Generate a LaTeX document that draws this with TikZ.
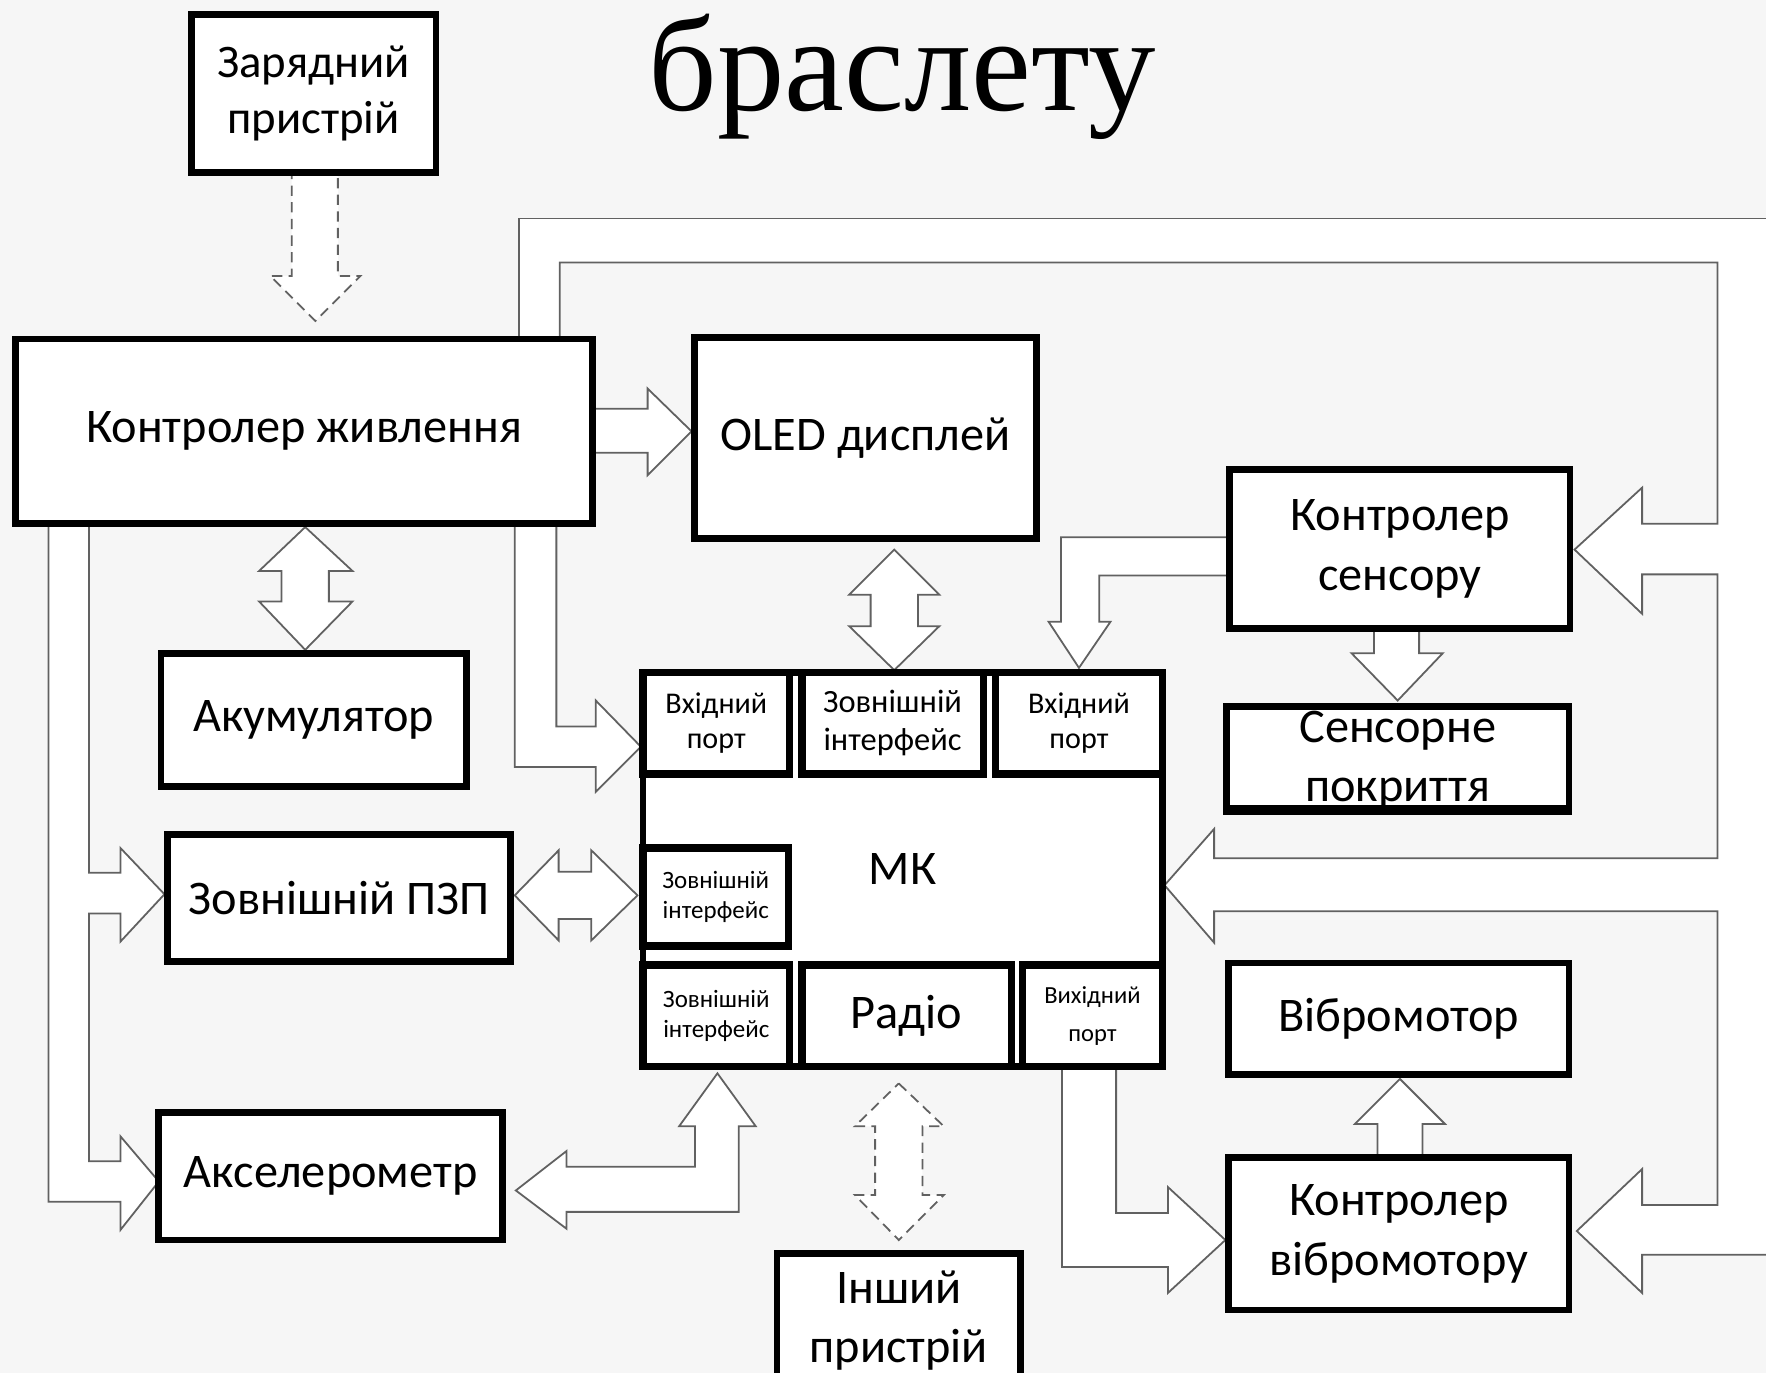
\documentclass[tikz,border=0pt]{standalone}
\usepackage{fontspec}
\setmainfont{Carlito}
\newfontfamily\titlefont{Liberation Serif}
\pgfdeclarelayer{bglayer}
\pgfdeclarelayer{arrowlayer}
\pgfsetlayers{bglayer,arrowlayer,main}
\definecolor{bgcol}{HTML}{F6F6F6}
\begin{document}
\begin{tikzpicture}[x=0.01cm,y=-0.01cm,
  box/.style={draw=black, line width=1.7pt, fill=white, inner sep=0pt, align=center,
    font=\fontsize{12.2}{15}\selectfont},
  cell/.style={box, line width=1.9pt},
  barrow/.style={draw=black!62, line width=0.45pt, fill=white, line join=miter},
  darrow/.style={barrow, dash pattern=on 2.6pt off 1.6pt},
  bline/.style={draw=black!62, line width=0.45pt}]
\useasboundingbox (0,0) rectangle (1568,1219);
\clip (0,0) rectangle (1568,1219);

% ---------- boxes ----------
\node[box, minimum width=2.17cm, minimum height=1.40cm, font=\fontsize{11.8}{14.2}\selectfont] (zar) at (278.5,83) {Зарядний\\пристрій};
\node[font=\titlefont\fontsize{34}{34}\selectfont, anchor=base] (title) at (801,98) {браслету};
\node[box, minimum width=5.12cm, minimum height=1.64cm] (kzh) at (270,383) {Контролер живлення};
\node[box, minimum width=3.03cm, minimum height=1.78cm] (oled) at (768.5,389) {OLED дисплей};
\node[box, minimum width=3.02cm, minimum height=1.41cm] (ks) at (1243,487.5) {Контролер\\сенсору};
\node[box, minimum width=3.04cm, minimum height=0.91cm] (sp) at (1241,672.5) {};
\node[align=center, font=\fontsize{12.2}{15}\selectfont] (sptext) at (1241,675) {Сенсорне\\покриття};
\draw[line width=1.7pt] (sp.south west) -- (sp.south east);
\node[box, minimum width=2.71cm, minimum height=1.18cm] (akum) at (278.5,639) {Акумулятор};
\node[box, minimum width=3.04cm, minimum height=1.13cm] (pzp) at (301,797.5) {Зовнішній ПЗП};
\node[box, minimum width=3.05cm, minimum height=1.13cm] (acc) at (293.5,1044.5) {Акселерометр};
\node[box, minimum width=3.02cm, minimum height=0.99cm] (vm) at (1242,904.5) {Вібромотор};
\node[box, minimum width=3.02cm, minimum height=1.35cm] (kvm) at (1242,1095.5) {Контролер\\вібромотору};
\node[box, minimum width=2.16cm, minimum height=1.19cm] (insh) at (798,1172.5) {Інший\\пристрій};

\node[box, minimum width=4.61cm, minimum height=3.50cm] (mk) at (801.5,772) {МК};
\node[cell, minimum width=1.30cm, minimum height=0.90cm, font=\fontsize{7.6}{8.8}\selectfont] (c1) at (636,642) {Вхідний\\порт};
\node[cell, minimum width=1.61cm, minimum height=0.90cm, font=\fontsize{8.2}{9.4}\selectfont] (c2) at (792.5,642) {Зовнішній\\інтерфейс};
\node[cell, minimum width=1.48cm, minimum height=0.90cm, font=\fontsize{7.6}{8.8}\selectfont] (c3) at (958,642) {Вхідний\\порт};
\node[cell, minimum width=1.29cm, minimum height=0.87cm, font=\fontsize{6.3}{7.7}\selectfont] (c4) at (635.5,796.5) {Зовнішній\\інтерфейс};
\node[cell, minimum width=1.30cm, minimum height=0.90cm, font=\fontsize{6.3}{7.7}\selectfont] (c5) at (636,902) {Зовнішній\\інтерфейс};
\node[cell, minimum width=1.86cm, minimum height=0.90cm, font=\fontsize{12.2}{14}\selectfont] (c6) at (805,902) {Радіо};
\node[cell, minimum width=1.24cm, minimum height=0.90cm, font=\fontsize{6.2}{9.5}\selectfont] (c7) at (970,902) {Вихідний\\порт};

% ---------- background and block arrows ----------
\begin{pgfonlayer}{bglayer}
\fill[bgcol] (0,0) rectangle (1568,1219);
\end{pgfonlayer}
\begin{pgfonlayer}{arrowlayer}
% charger -> power controller (dashed)
\path[darrow] (259,150) -- (259,245) -- (240,245) -- (280,285) -- (320,245) -- (300,245) -- (300,150);
% power bus: top and right side
\fill[white] (461,302) -- (461,194) -- (1600,194) -- (1600,1114) -- (1458,1114) -- (1458,1148)
  -- (1400,1093) -- (1458,1038) -- (1458,1070) -- (1525,1070) -- (1525,809) -- (1078,809)
  -- (1078,837) -- (1034,786) -- (1078,736) -- (1078,762) -- (1525,762) -- (1525,510)
  -- (1458,510) -- (1458,545) -- (1398,488) -- (1458,433) -- (1458,465) -- (1525,465)
  -- (1525,233) -- (497,233) -- (497,302) -- cycle;
\draw[bline] (461,302) -- (461,194) -- (1600,194);
\draw[bline] (497,302) -- (497,233) -- (1525,233) -- (1525,465) -- (1458,465) -- (1458,433)
  -- (1398,488) -- (1458,545) -- (1458,510) -- (1525,510) -- (1525,762) -- (1078,762)
  -- (1078,736) -- (1034,786) -- (1078,837) -- (1078,809) -- (1525,809) -- (1525,1070)
  -- (1458,1070) -- (1458,1038) -- (1400,1093) -- (1458,1148) -- (1458,1114) -- (1600,1114);
% power controller -> OLED
\path[barrow] (524,363) -- (575,363) -- (575,345) -- (614,383) -- (575,422) -- (575,402) -- (524,402);
% power controller <-> accumulator
\path[barrow] (271,468) -- (313,507) -- (292,507) -- (292,534) -- (313,534) -- (271,577)
  -- (230,534) -- (250,534) -- (250,507) -- (230,507) -- cycle;
% left power band -> ROM and accelerometer
\path[barrow] (43,464) -- (43,1067) -- (107,1067) -- (107,1092) -- (141,1049) -- (107,1009)
  -- (107,1031) -- (79,1031) -- (79,811) -- (107,811) -- (107,836) -- (146,794) -- (107,753)
  -- (107,775) -- (79,775) -- (79,464);
% power band -> MK input port
\path[barrow] (457,464) -- (457,681) -- (529,681) -- (529,703) -- (569,663) -- (529,622)
  -- (529,645) -- (494,645) -- (494,464);
% ROM <-> MK interface
\path[barrow] (457,795) -- (496,755) -- (496,774) -- (525,774) -- (525,755) -- (566,795)
  -- (525,835) -- (525,816) -- (496,816) -- (496,835) -- cycle;
% OLED <-> MK interface
\path[barrow] (794,488) -- (834,528) -- (815,528) -- (815,556) -- (834,556) -- (794,595)
  -- (754,556) -- (773,556) -- (773,528) -- (754,528) -- cycle;
% touch controller -> MK input port
\path[barrow] (1094,477) -- (942,477) -- (942,552) -- (931,552) -- (958,593) -- (986,552)
  -- (976,552) -- (976,511) -- (1094,511);
% touch controller -> touch cover
\path[barrow] (1220,556) -- (1220,580) -- (1200,580) -- (1241,622) -- (1281,580) -- (1260,580) -- (1260,556);
% vibro controller -> vibromotor
\path[barrow] (1223,1029) -- (1223,998) -- (1203,998) -- (1243,958) -- (1283,998) -- (1263,998) -- (1263,1029);
% MK output port -> vibro controller
\path[barrow] (943,944) -- (943,1125) -- (1037,1125) -- (1037,1148) -- (1088,1101) -- (1037,1054)
  -- (1037,1077) -- (991,1077) -- (991,944);
% accelerometer <-> MK interface
\path[barrow] (458,1057) -- (503,1022) -- (503,1036) -- (617,1036) -- (617,1000) -- (603,1000)
  -- (637,953) -- (671,1000) -- (656,1000) -- (656,1076) -- (503,1076) -- (503,1091) -- cycle;
% radio <-> other device (dashed)
\path[darrow] (798,962) -- (838,1000) -- (819,1000) -- (819,1061) -- (838,1061) -- (798,1101)
  -- (759,1061) -- (777,1061) -- (777,1000) -- (759,1000) -- cycle;
\end{pgfonlayer}
\end{tikzpicture}
\end{document}
